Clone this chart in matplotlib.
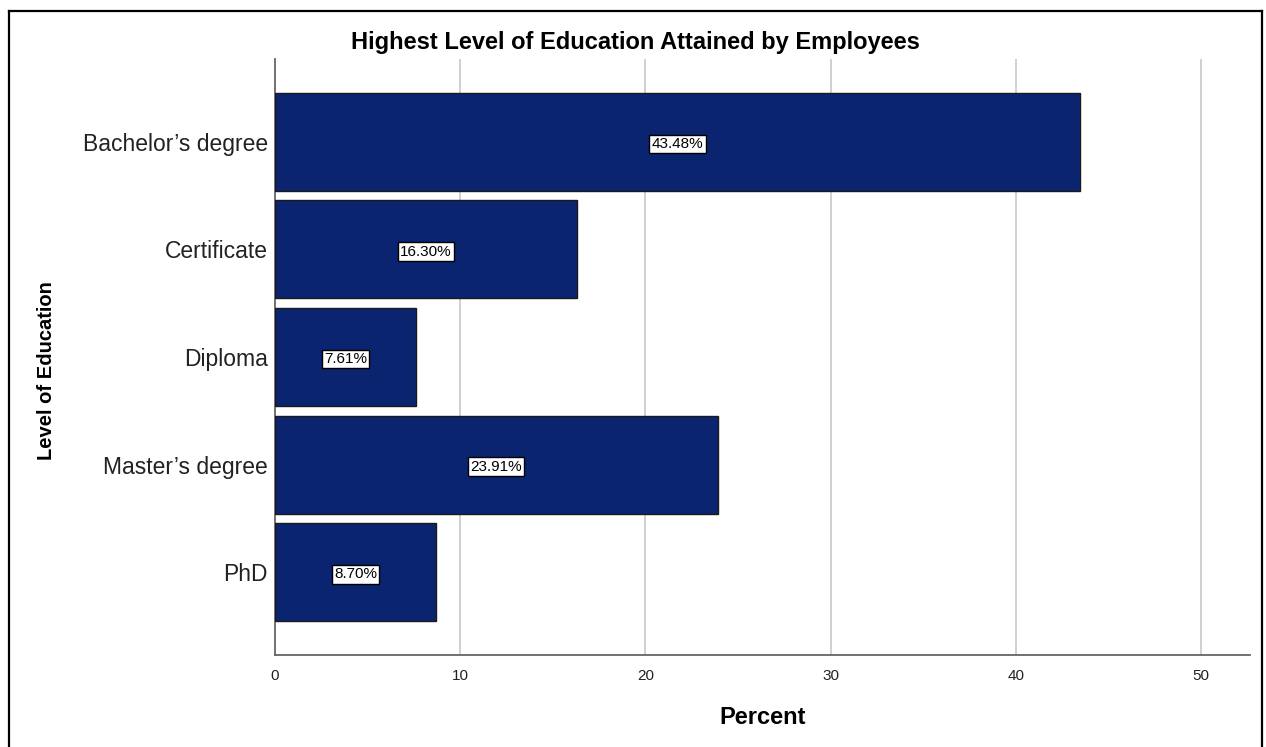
import matplotlib
matplotlib.use("Agg")
import matplotlib.pyplot as plt
from matplotlib.lines import Line2D

categories = ["Bachelor\u2019s degree", "Certificate", "Diploma", "Master\u2019s degree", "PhD"]
percents = [43.48, 16.30, 7.61, 23.91, 8.70]
value_labels = ["43.48%", "16.30%", "7.61%", "23.91%", "8.70%"]
xticks = [0, 10, 20, 30, 40, 50]

plt.rcParams['font.family'] = ['Liberation Sans', 'DejaVu Sans']

W, H = 1266, 747
fig = plt.figure(figsize=(W / 100, H / 100), dpi=100)
ax = fig.add_axes([275 / W, 1 - 655 / H, (1250 - 275) / W, (655 - 59) / H])

ypos = list(range(len(categories)))[::-1]
ax.barh(ypos, percents, height=0.91, color="#0a2470", edgecolor="#1a1a1a", linewidth=1.0, zorder=3)

for y, v, lab in zip(ypos, percents, value_labels):
    ax.text(v / 2, y - 0.02, lab, ha="center", va="center", fontsize=11, color="black", zorder=5,
            bbox=dict(boxstyle="square,pad=0.15", facecolor="white", edgecolor="black", linewidth=1.0))

ax.set_xlim(0, 52.65)
ax.set_ylim(-0.77, 4.77)
ax.set_yticks(ypos)
ax.set_yticklabels(categories, fontsize=16.5, color="#222222")
ax.set_xticks(xticks)
ax.set_xticklabels([str(t) for t in xticks], fontsize=11, color="#222222")
ax.tick_params(axis="both", length=0)
ax.tick_params(axis="y", pad=5)
ax.tick_params(axis="x", pad=10)

for t in xticks[1:]:
    ax.axvline(t, color="#c8c8c8", linewidth=1.2, zorder=1)

for s in ["top", "right"]:
    ax.spines[s].set_visible(False)
for s in ["left", "bottom"]:
    ax.spines[s].set_color("#666666")
    ax.spines[s].set_linewidth(1.3)

fig.text(635 / W, 1 - 43 / H, "Highest Level of Education Attained by Employees",
         ha="center", va="center", fontsize=17, fontweight="bold")
fig.text(763 / W, 1 - 717 / H, "Percent", ha="center", va="center", fontsize=17, fontweight="bold")
fig.text(47 / W, 1 - 371 / H, "Level of Education", ha="center", va="center", rotation=90,
         fontsize=14.5, fontweight="bold")

# figure border
x0, x1, yt = 8.5 / W, 1261.5 / W, 1 - 10.5 / H
for xs, ys in [([x0, x0], [0, yt]), ([x0, x1], [yt, yt]), ([x1, x1], [yt, 0])]:
    fig.add_artist(Line2D(xs, ys, color="black", linewidth=1.6, transform=fig.transFigure))

fig.savefig("out.png", dpi=100)
